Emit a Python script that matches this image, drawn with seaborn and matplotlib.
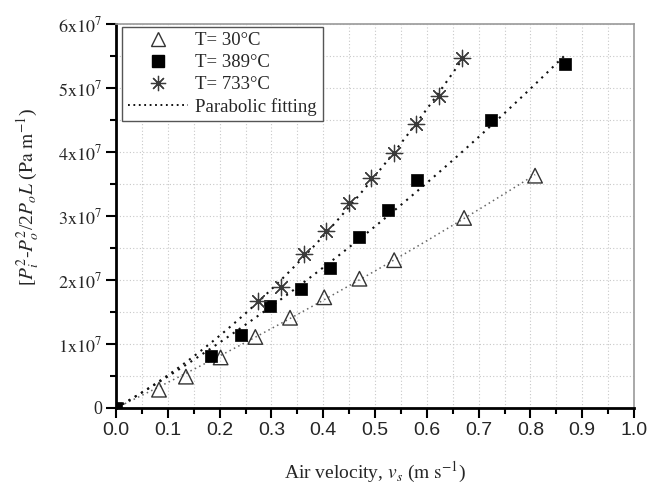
import numpy as np
import pandas as pd
import matplotlib
matplotlib.use("Agg")
import matplotlib.pyplot as plt
import seaborn as sns
from matplotlib.lines import Line2D
from matplotlib.ticker import FixedLocator, FixedFormatter, MultipleLocator

# ---- data (x in m/s, y in units of 1e7 Pa/m) ----
x_30 = [0.083, 0.135, 0.202, 0.269, 0.336, 0.402, 0.470, 0.537, 0.672, 0.809]
y_30 = [0.286, 0.49, 0.79, 1.11, 1.41, 1.73, 2.02, 2.31, 2.97, 3.63]

x_389 = [0.0, 0.183, 0.241, 0.298, 0.357, 0.414, 0.469, 0.526, 0.581, 0.724, 0.866]
y_389 = [0.0, 0.81, 1.135, 1.60, 1.86, 2.18, 2.67, 3.10, 3.56, 4.50, 5.37]

x_733 = [0.275, 0.319, 0.363, 0.406, 0.450, 0.493, 0.537, 0.580, 0.624, 0.667]
y_733 = [1.667, 1.885, 2.41, 2.76, 3.21, 3.59, 3.99, 4.43, 4.87, 5.47]

series_labels = ["T= 30°C", "T= 389°C", "T= 733°C"]
fit_label = "Parabolic fitting"

x_ticks = [0.0, 0.1, 0.2, 0.3, 0.4, 0.5, 0.6, 0.7, 0.8, 0.9, 1.0]
y_ticks = [0, 1e7, 2e7, 3e7, 4e7, 5e7, 6e7]
y_tick_labels = ["0", r"$1\mathrm{x}10^{7}$", r"$2\mathrm{x}10^{7}$", r"$3\mathrm{x}10^{7}$",
                 r"$4\mathrm{x}10^{7}$", r"$5\mathrm{x}10^{7}$", r"$6\mathrm{x}10^{7}$"]

sns.set_style("white")
plt.rcParams["mathtext.fontset"] = "stix"
plt.rcParams["font.family"] = ["Liberation Serif", "DejaVu Serif"]

fig = plt.figure(figsize=(6.5, 4.84), dpi=100)
ax = fig.add_axes([116/650, 1-408/484, 518/650, 384/484])

def df_of(x, y):
    return pd.DataFrame({"x": np.array(x), "y": np.array(y) * 1e7})

def fit_df(x, y):
    x = np.array(x); y = np.array(y) * 1e7
    A = np.vstack([x, x**2]).T
    coef, *_ = np.linalg.lstsq(A, y, rcond=None)
    xs = np.linspace(0, x.max(), 100)
    return pd.DataFrame({"x": xs, "y": coef[0]*xs + coef[1]*xs**2})

# fit lines
sns.lineplot(data=fit_df(x_30, y_30), x="x", y="y", ax=ax, color="#666666",
             lw=1.1, linestyle=(0, (1, 2.2)), sort=False)
sns.lineplot(data=fit_df(x_389, y_389), x="x", y="y", ax=ax, color="#111111",
             lw=1.5, linestyle=(0, (1, 2.5)), sort=False)
sns.lineplot(data=fit_df(x_733, y_733), x="x", y="y", ax=ax, color="#111111",
             lw=1.5, linestyle=(0, (1, 2.5)), sort=False)

# points
sns.scatterplot(data=df_of(x_30, y_30), x="x", y="y", ax=ax, marker="^", s=110,
                facecolor="none", edgecolor="#333333", linewidth=1.0, zorder=5)
sns.scatterplot(data=df_of(x_389, y_389), x="x", y="y", ax=ax, marker="s", s=75,
                color="black", edgecolor="black", linewidth=0.5, zorder=5)
sns.scatterplot(data=df_of(x_733, y_733), x="x", y="y", ax=ax, marker=(8, 2, 0), s=140,
                color="#3a3a3a", edgecolor="#3a3a3a", linewidth=0.9, zorder=5)

ax.set_xlim(0, 1.0)
ax.set_ylim(0, 6e7)

ax.xaxis.set_major_locator(FixedLocator(x_ticks))
ax.xaxis.set_major_formatter(FixedFormatter([f"{v:.1f}" for v in x_ticks]))
ax.xaxis.set_minor_locator(MultipleLocator(0.05))
ax.yaxis.set_major_locator(FixedLocator(y_ticks))
ax.yaxis.set_major_formatter(FixedFormatter(y_tick_labels))
ax.yaxis.set_minor_locator(MultipleLocator(0.5e7))

ax.grid(True, which="both", color="#c8c8c8", linestyle=(0, (1, 2)), linewidth=0.8)
ax.set_axisbelow(True)

for lbl in ax.get_xticklabels():
    lbl.set_fontfamily(["Liberation Sans", "DejaVu Sans"])
    lbl.set_fontsize(14)
for lbl in ax.get_yticklabels():
    lbl.set_fontsize(13)

ax.tick_params(axis="both", which="major", direction="out", length=7, width=1.5,
               color="black", pad=3, bottom=True, left=True)
ax.tick_params(axis="both", which="minor", direction="out", length=4, width=1.5,
               color="black", bottom=True, left=True)

ax.spines["left"].set_linewidth(2)
ax.spines["bottom"].set_linewidth(2)
ax.spines["left"].set_color("black")
ax.spines["bottom"].set_color("black")
for s in ["top", "right"]:
    ax.spines[s].set_color("#9a9a9a")
    ax.spines[s].set_linewidth(1.2)

ax.set_xlabel(r"Air velocity, $v_s$ ($\mathrm{m\ s^{-1}}$)", fontsize=14)
ax.set_ylabel(r"[$P_i^2$-$P_o^2$/2$P_oL$ ($\mathrm{Pa\ m^{-1}}$)", fontsize=14)
ax.xaxis.set_label_coords(0.5, -0.135)
ax.yaxis.set_label_coords(-0.142, 0.55)

handles = [
    Line2D([], [], linestyle="none", marker="^", markersize=10, markerfacecolor="none",
           markeredgecolor="#333333", markeredgewidth=1.0),
    Line2D([], [], linestyle="none", marker="s", markersize=8.5, color="black"),
    Line2D([], [], linestyle="none", marker=(8, 2, 0), markersize=11, color="#3a3a3a",
           markeredgewidth=0.9),
    Line2D([], [], color="black", lw=1.3, linestyle=(0, (1, 2))),
]
leg = ax.legend(handles, series_labels + [fit_label], loc="upper left",
                bbox_to_anchor=(0.012, 0.993), frameon=True, fancybox=False,
                edgecolor="#555555", fontsize=13.5, handlelength=3.2,
                handletextpad=0.4, labelspacing=0.25, borderpad=0.3,
                borderaxespad=0)
leg.get_frame().set_linewidth(1.0)
leg.get_frame().set_alpha(1)

fig.savefig("out.png", dpi=100)
